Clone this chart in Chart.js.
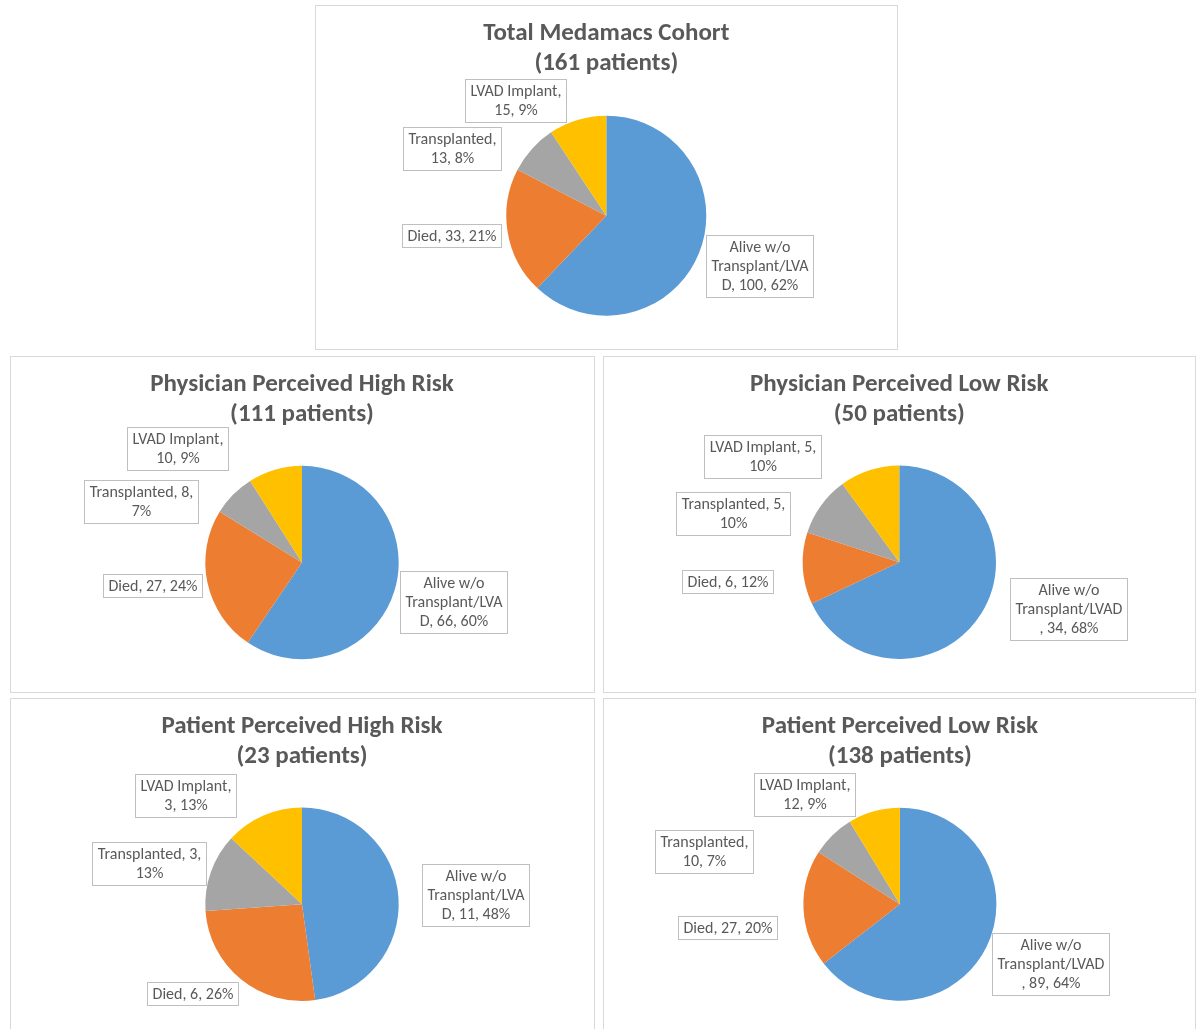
<!DOCTYPE html>
<html>
<head>
<meta charset="utf-8">
<script src="https://cdn.jsdelivr.net/npm/chart.js@4.4.1/dist/chart.umd.min.js"></script>
<style>
  html, body { margin: 0; padding: 0; background: #fff; }
  body { width: 1196px; height: 1029px; position: relative; overflow: hidden; }
  .frame { position: absolute; box-sizing: border-box; border: 1px solid #d9d9d9; background: #fff; }
  canvas { position: absolute; }
</style>
</head>
<body>
<script>
// Outcome categories, in clockwise order from 12 o'clock
const categories = ['Alive w/o Transplant/LVAD', 'Died', 'Transplanted', 'LVAD Implant'];

// Patient counts per outcome for each group
const totalCohort       = [100, 33, 13, 15];
const physicianHighRisk = [66, 27, 8, 10];
const physicianLowRisk  = [34, 6, 5, 5];
const patientHighRisk   = [11, 6, 3, 3];
const patientLowRisk    = [89, 27, 10, 12];

const groupNames = [
  'Total Medamacs Cohort',
  'Physician Perceived High Risk',
  'Physician Perceived Low Risk',
  'Patient Perceived High Risk',
  'Patient Perceived Low Risk'
];
const groupValues = [totalCohort, physicianHighRisk, physicianLowRisk, patientHighRisk, patientLowRisk];

const sliceColors = ['#5B9BD5', '#ED7D31', '#A5A5A5', '#FFC000'];

// Frame of each panel and where its pie sits (page pixels)
const frames = [
  { x: 315, y: 5,   w: 583, h: 345, cx: 606.3, cy: 215.7, r: 100 },
  { x: 10,  y: 356, w: 585, h: 337, cx: 302,   cy: 562.5, r: 96.7 },
  { x: 603, y: 356, w: 593, h: 337, cx: 899.3, cy: 562.3, r: 96.7 },
  { x: 10,  y: 698, w: 585, h: 340, cx: 302,   cy: 904.3, r: 96.7 },
  { x: 603, y: 698, w: 593, h: 340, cx: 899.9, cy: 904.2, r: 96.5 }
];

// Data-label box centres relative to the pie centre, in radii (Alive, Died, Transplanted, LVAD)
const labelOffsets = [
  [[1.54, 0.51], [-1.54, 0.20], [-1.54, -0.67], [-0.90, -1.15]],
  [[1.57, 0.41], [-1.54, 0.24], [-1.66, -0.63], [-1.28, -1.17]],
  [[1.75, 0.49], [-1.77, 0.20], [-1.71, -0.50], [-1.41, -1.09]],
  [[1.80, -0.09], [-1.13, 0.93], [-1.58, -0.42], [-1.20, -1.12]],
  [[1.57, 0.62], [-1.78, 0.25], [-2.03, -0.54], [-0.98, -1.13]]
];

// Maximum text width of each data label before it wraps
const labelWrap = [
  [102, 200, 98, 100],
  [102, 200, 110, 100],
  [108.8, 200, 112, 112],
  [102, 200, 110, 100],
  [108.8, 200, 98, 100]
];

const LABEL_FONT = { family: 'Carlito', size: 16, lineHeight: 19.3, padX: 5.5, padY: 2.5 };
const TITLE_FONT = { family: 'Carlito', size: 25, lineHeight: 30 };

// Whole-number percentages that add up to 100 (largest remainder)
function percentShares(values) {
  const total = values.reduce((a, b) => a + b, 0);
  const raw = values.map(v => v * 100 / total);
  const out = raw.map(Math.floor);
  const left = 100 - out.reduce((a, b) => a + b, 0);
  const order = raw.map((v, i) => [v - out[i], i]).sort((a, b) => b[0] - a[0]);
  for (let k = 0; k < left; k++) out[order[k][1]]++;
  return out;
}

// Greedy word wrap; words wider than the line are split by character
function wrapText(ctx, text, maxW) {
  const words = text.split(' ');
  const lines = [];
  let line = '';
  for (let word of words) {
    const trial = line ? line + ' ' + word : word;
    if (ctx.measureText(trial).width <= maxW) { line = trial; continue; }
    if (line) { lines.push(line); line = ''; }
    while (ctx.measureText(word).width > maxW) {
      let k = word.length - 1;
      while (k > 1 && ctx.measureText(word.slice(0, k)).width > maxW) k--;
      lines.push(word.slice(0, k));
      word = word.slice(k);
    }
    line = word;
  }
  if (line) lines.push(line);
  return lines;
}

// Boxed "category, count, percent" labels placed around each slice
const calloutPlugin = {
  id: 'callouts',
  afterDatasetsDraw(chart, args, opts) {
    const ctx = chart.ctx;
    const meta = chart.getDatasetMeta(0);
    const values = chart.data.datasets[0].data;
    const shares = percentShares(values);
    ctx.save();
    ctx.font = `${LABEL_FONT.size}px ${LABEL_FONT.family}`;
    meta.data.forEach((arc, i) => {
      const text = `${chart.data.labels[i]}, ${values[i]}, ${shares[i]}%`;
      const lines = wrapText(ctx, text, opts.wrap[i]);
      const textW = Math.max(...lines.map(l => ctx.measureText(l).width));
      const bw = Math.round(textW + 2 * LABEL_FONT.padX);
      const bh = Math.round(lines.length * LABEL_FONT.lineHeight + 2 * LABEL_FONT.padY);
      const bx = Math.round(arc.x + opts.offsets[i][0] * arc.outerRadius - bw / 2);
      const by = Math.round(arc.y + opts.offsets[i][1] * arc.outerRadius - bh / 2);
      ctx.fillStyle = '#ffffff';
      ctx.fillRect(bx, by, bw, bh);
      ctx.strokeStyle = '#bfbfbf';
      ctx.lineWidth = 1;
      ctx.strokeRect(bx + 0.5, by + 0.5, bw - 1, bh - 1);
      ctx.fillStyle = '#595959';
      ctx.textAlign = 'center';
      ctx.textBaseline = 'middle';
      lines.forEach((l, k) => {
        ctx.fillText(l, bx + bw / 2, by + LABEL_FONT.padY + LABEL_FONT.lineHeight * (k + 0.5) + 0.5);
      });
    });
    ctx.restore();
  }
};

frames.forEach((f, idx) => {
  const box = document.createElement('div');
  box.className = 'frame';
  Object.assign(box.style, { left: f.x + 'px', top: f.y + 'px', width: f.w + 'px', height: f.h + 'px' });
  document.body.appendChild(box);

  const canvas = document.createElement('canvas');
  canvas.width = f.w;
  canvas.height = f.h;
  Object.assign(canvas.style, { left: f.x + 'px', top: f.y + 'px', width: f.w + 'px', height: f.h + 'px' });
  document.body.appendChild(canvas);

  const values = groupValues[idx];
  const total = values.reduce((a, b) => a + b, 0);
  const pieTop = f.cy - f.r - f.y;
  const titleTop = 28.5 - TITLE_FONT.lineHeight / 2;
  // shift the plot area sideways so the pie (and the title above it) centre on cx,
  // while the plot area stays wide enough for the title to be drawn at full width
  const shift = 2 * (f.cx - f.x) - f.w;

  new Chart(canvas, {
    type: 'pie',
    data: {
      labels: categories,
      datasets: [{ data: values, backgroundColor: sliceColors, borderWidth: 0 }]
    },
    options: {
      responsive: false,
      animation: false,
      devicePixelRatio: 1,
      layout: {
        padding: {
          left: Math.max(0, shift),
          right: Math.max(0, -shift),
          top: 0,
          bottom: (f.y + f.h) - (f.cy + f.r)
        }
      },
      plugins: {
        legend: { display: false },
        tooltip: { enabled: false },
        title: {
          display: true,
          text: [groupNames[idx], `(${total} patients)`],
          color: '#595959',
          font: { family: TITLE_FONT.family, size: TITLE_FONT.size, weight: 'bold', lineHeight: TITLE_FONT.lineHeight + 'px' },
          padding: { top: titleTop, bottom: pieTop - titleTop - 2 * TITLE_FONT.lineHeight }
        },
        callouts: { offsets: labelOffsets[idx], wrap: labelWrap[idx] }
      }
    },
    plugins: [calloutPlugin]
  });
});
</script>
</body>
</html>
